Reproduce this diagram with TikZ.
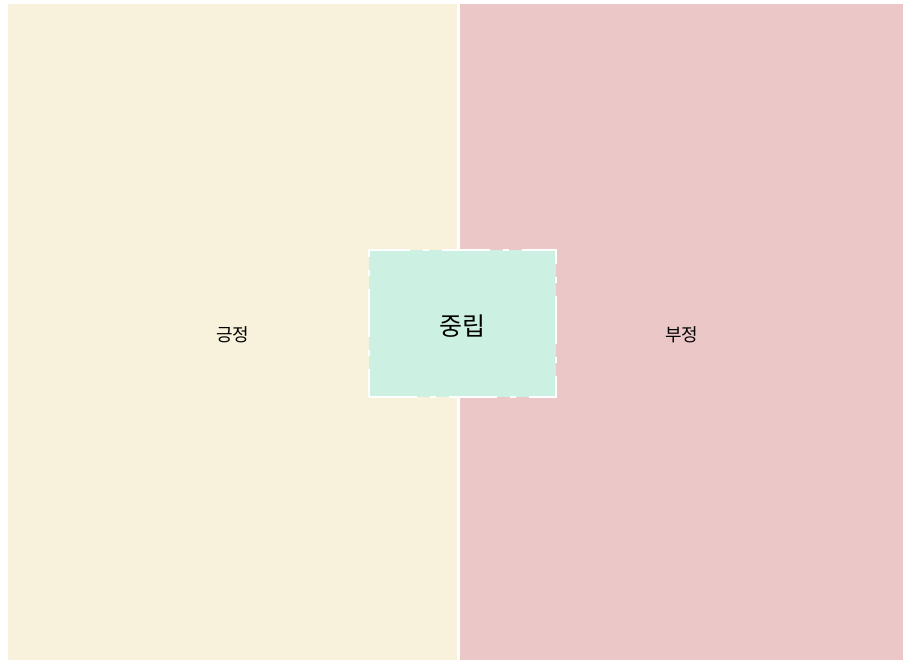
\documentclass[tikz,border=0pt]{standalone}
\usepackage{fontspec}
\setmainfont{Noto Sans CJK KR}
\usetikzlibrary{positioning}
\definecolor{posfill}{RGB}{248,242,220}
\definecolor{negfill}{RGB}{236,199,200}
\definecolor{neufill}{RGB}{204,240,226}
\newcommand{\panel}[5]{\node(#1)[panel,fill=#2,minimum width=#3] at #4 {#5}}

\begin{document}
\begin{tikzpicture}[
        x=1pt,y=-1pt,
        panel/.style={rectangle,anchor=north west,minimum height=656pt,
                      inner sep=0pt,text height=19pt,text depth=0pt,
                      font=\fontsize{18}{20}\selectfont},
        middle/.style={rectangle,minimum width=187pt,minimum height=147pt,
                       fill=neufill,draw=white,line width=2.5pt,
                       dash pattern=on 48pt off 13pt on 6pt off 13pt,
                       text height=23pt,text depth=0pt,
                       font=\fontsize{25}{27}\selectfont}
      ]
      \useasboundingbox (0,0) rectangle (903,662);
      \fill[white] (0,0) rectangle (903,662);
      \panel{pos}{posfill}{449pt}{(8,4)}{긍정};
      \panel{neg}{negfill}{443pt}{(460,4)}{부정};
      \node(neu)[middle] at (462.5,323.5) {중립};
    \end{tikzpicture}
\end{document}
